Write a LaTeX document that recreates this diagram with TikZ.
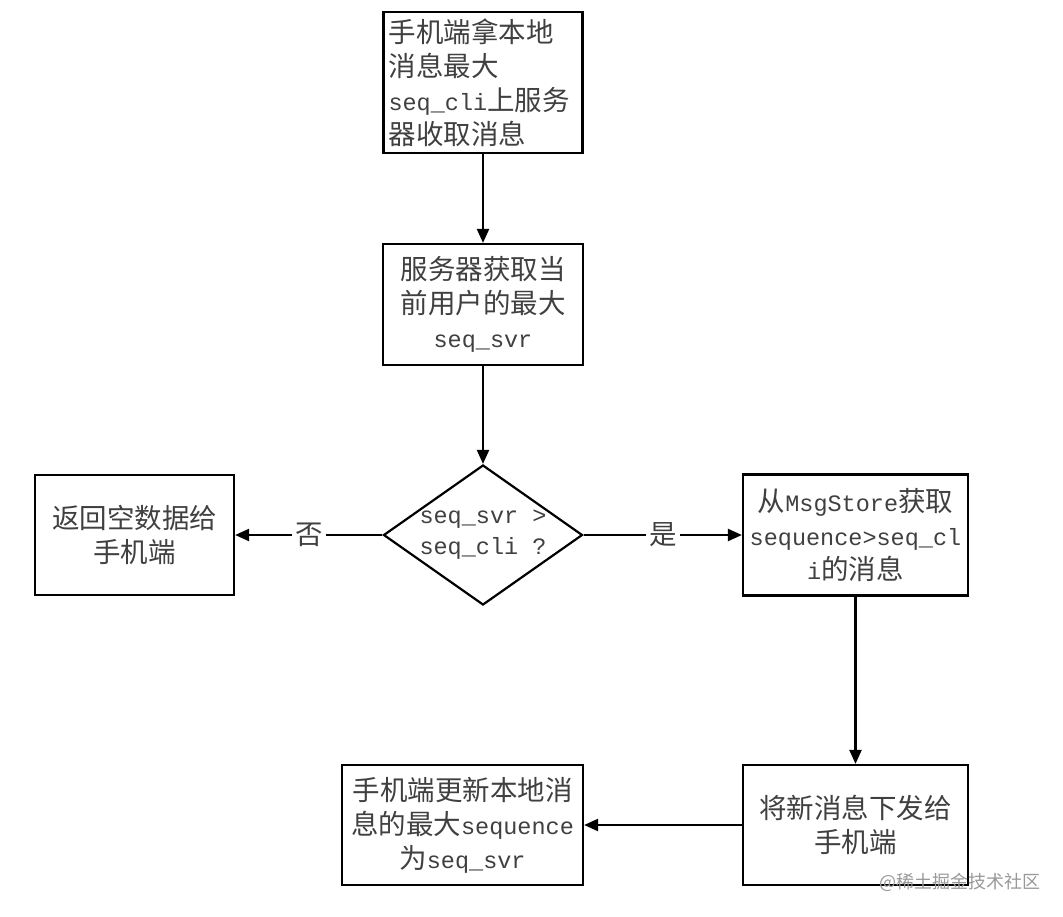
\documentclass[tikz,border=0pt]{standalone}
\usepackage{fontspec}
\setmainfont{Noto Sans CJK SC}
\newfontfamily\monof{Liberation Mono}
\usetikzlibrary{arrows.meta,shapes.geometric}
\newcommand{\lat}[1]{{\fontsize{23.5pt}{34pt}\monof #1}}
\begin{document}
\begin{tikzpicture}[x=1pt,y=-1pt,
  box/.style={draw=black,line width=2.2pt,rectangle,inner sep=0pt,align=center,
    text=black!75,font=\fontsize{27.5pt}{34pt}\selectfont},
  arr/.style={draw=black,line width=2.2pt,-{Triangle[length=14pt,width=12pt]}},
  lbl/.style={fill=white,text=black!75,inner sep=3pt,font=\fontsize{27.5pt}{34pt}\selectfont}]
\useasboundingbox (0,0) rectangle (1063,916);
\fill[white] (0,0) rectangle (1063,916);

\node[box,minimum width=199pt,minimum height=141pt,text width=189pt,align=left] (b1) at (483,82.5)
  {手机端拿本地\\消息最大\\\lat{seq\_cli}上服务\\器收取消息};
\node[box,minimum width=200pt,minimum height=121pt] (b2) at (483,304.5)
  {服务器获取当\\前用户的最大\\\lat{seq\_svr}};
\node[draw=black,line width=2.2pt,diamond,minimum width=199pt,minimum height=140pt,inner sep=0pt] (d) at (483,535) {};
\node[align=center,text=black!75,font=\fontsize{27.5pt}{31pt}\selectfont] (dt) at (d.center)
  {\lat{seq\_svr >}\\\lat{seq\_cli ?}};
\node[box,minimum width=199pt,minimum height=120pt] (no) at (134.5,535)
  {返回空数据给\\手机端};
\node[box,minimum width=225pt,minimum height=121pt] (yes) at (855.5,535)
  {从\lat{MsgStore}获取\\\lat{sequence>seq\_cl}\\\lat{i}的消息};
\node[box,minimum width=225pt,minimum height=120pt] (send) at (855.5,825)
  {将新消息下发给\\手机端};
\node[box,minimum width=241pt,minimum height=120pt] (upd) at (462.5,825)
  {手机端更新本地消\\息的最大\lat{sequence}\\为\lat{seq\_svr}};

\draw[arr] (b1) -- (b2);
\draw[arr] (b2) -- (d);
\draw[arr] (d.west) -- node[lbl] (lno) {否} (no.east);
\draw[arr] (d.east) -- node[lbl] (lyes) {是} (yes.west);
\draw[arr] (yes) -- (send);
\draw[arr] (send) -- (upd);

\node[text=black!40,font=\fontsize{18pt}{20pt}\selectfont,inner sep=0pt] (wm) at (960,882) {@稀土掘金技术社区};
\end{tikzpicture}
\end{document}
